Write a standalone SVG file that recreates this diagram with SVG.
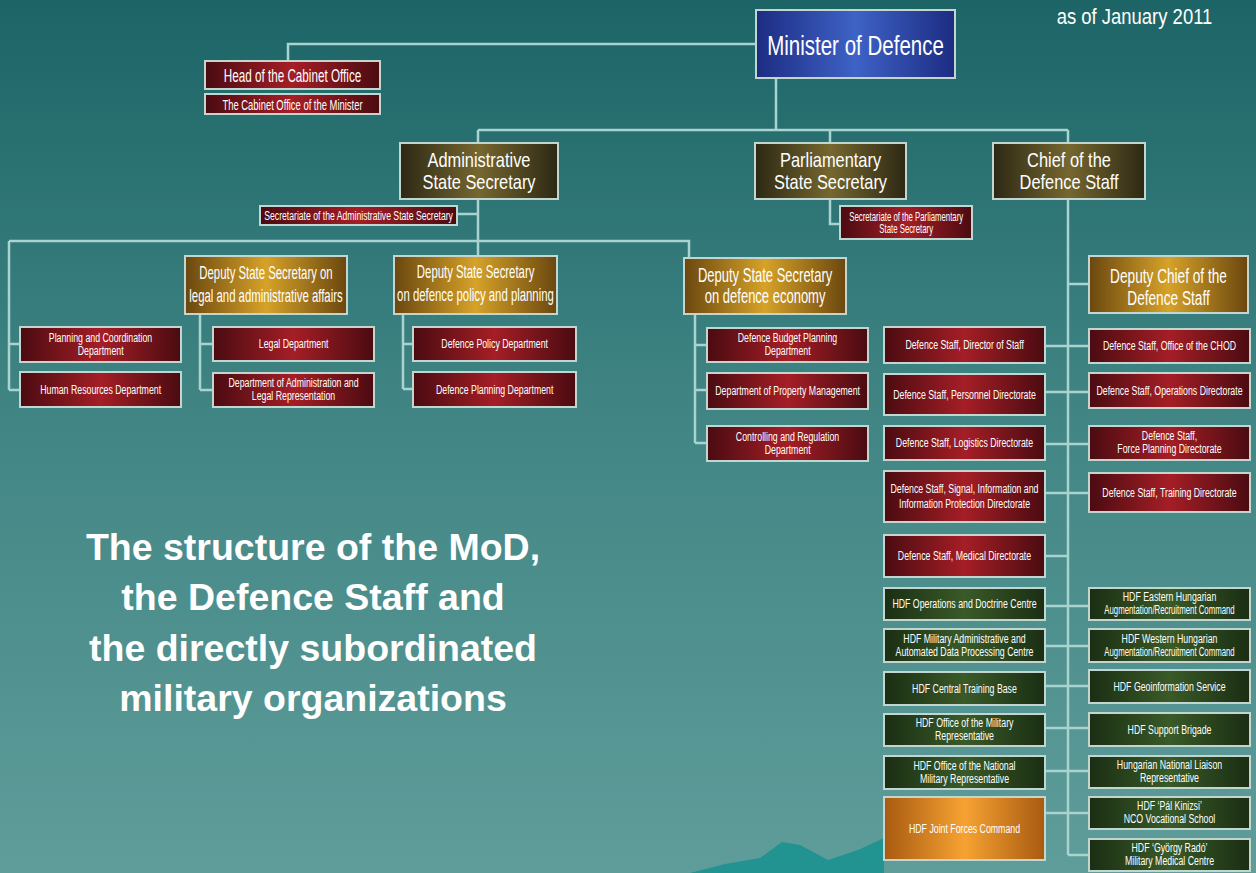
<svg xmlns="http://www.w3.org/2000/svg" width="1256" height="873" viewBox="0 0 1256 873">
<defs>
<linearGradient id="bg" x1="0" y1="0" x2="0" y2="1">
<stop offset="0" stop-color="#1c6466"/><stop offset="0.45" stop-color="#3f8483"/><stop offset="1" stop-color="#5f9d9a"/>
</linearGradient>
<linearGradient id="gRed" x1="0" y1="0" x2="1" y2="0"><stop offset="0" stop-color="#4a0b11"/><stop offset="0.5" stop-color="#a51e26"/><stop offset="1" stop-color="#4a0b11"/></linearGradient>
<linearGradient id="gOlive" x1="0" y1="0" x2="1" y2="0"><stop offset="0" stop-color="#2c2814"/><stop offset="0.5" stop-color="#76672f"/><stop offset="1" stop-color="#2c2814"/></linearGradient>
<linearGradient id="gGold" x1="0" y1="0" x2="1" y2="0"><stop offset="0" stop-color="#6a470f"/><stop offset="0.5" stop-color="#d6a229"/><stop offset="1" stop-color="#6a470f"/></linearGradient>
<linearGradient id="gGreen" x1="0" y1="0" x2="1" y2="0"><stop offset="0" stop-color="#1a2e13"/><stop offset="0.5" stop-color="#3a5a28"/><stop offset="1" stop-color="#1a2e13"/></linearGradient>
<linearGradient id="gBlue" x1="0" y1="0" x2="1" y2="0"><stop offset="0" stop-color="#1c2c82"/><stop offset="0.5" stop-color="#3e62c6"/><stop offset="1" stop-color="#1c2c82"/></linearGradient>
<linearGradient id="gOrange" x1="0" y1="0" x2="1" y2="0"><stop offset="0" stop-color="#a85a10"/><stop offset="0.5" stop-color="#f6a232"/><stop offset="1" stop-color="#a85a10"/></linearGradient>
</defs>
<style>
rect.n{stroke:#c3d5cf;stroke-width:2}
.red{fill:url(#gRed)}.olive{fill:url(#gOlive)}.gold{fill:url(#gGold)}.green{fill:url(#gGreen)}.blue{fill:url(#gBlue)}.orange{fill:url(#gOrange)}
text{font-family:"Liberation Sans",Arial,sans-serif;fill:#ffffff;text-anchor:middle;transform-box:fill-box;transform-origin:center;transform:scaleX(0.65)}
.k72{transform:scaleX(0.72)}.k80{transform:scaleX(0.8)}.k84{transform:scaleX(0.84)}
.s{font-size:13.5px}.xs{font-size:12px}.dss{font-size:17.5px}.ol{font-size:20.5px}
text.title{font-weight:bold;font-size:37.5px;transform:none}
#connectors path{fill:none;stroke:#a9d3cf;stroke-width:2.5}
</style>
<rect x="0" y="0" width="1256" height="873" fill="url(#bg)"/>
<polygon points="690,873 725,864 760,858 782,842 800,845 828,860 858,850 884,838 884,873" fill="#13918f" opacity="0.8"/>

<text class="k84" x="1134.5" y="24" style="font-size:22px">as of January 2011</text>
<g id="title"><text class="title" x="313" y="560">The structure of the MoD,</text><text class="title" x="313" y="610">the Defence Staff and</text><text class="title" x="313" y="661">the directly subordinated</text><text class="title" x="313" y="711">military organizations</text></g>

<g id="connectors">
<path d="M756,44 H288 V61"/>
<path d="M776,78 V130 M478,130 H1068 M478,130 V143 M830,130 V143 M1068,130 V143"/>
<path d="M478,199 V256 M457,214 H478"/>
<path d="M9,241 H689 V258 M9,241 V390 M9,344 H20 M9,390 H20"/>
<path d="M200,314 V390 M200,344 H213 M200,390 H213"/>
<path d="M403,314 V389 M403,344 H413 M403,389 H413"/>
<path d="M695,314 V443 M695,345 H707 M695,390 H707 M695,443 H707"/>
<path d="M830,199 V224 H840"/>
<path d="M1068,199 V855 M1068,284 H1089 M1068,855 H1089"/>
<path d="M1045,346 H1089 M1045,392 H1089 M1045,444 H1089 M1045,493 H1089 M1045,556 H1068 M1045,606 H1089 M1045,646 H1089 M1045,686 H1089 M1045,728 H1089 M1045,771 H1089 M1045,813 H1089"/>
</g>

<g id="minister"><rect class="n blue" x="756" y="10" width="199" height="68"/><text class="k72" x="855.5" y="55" style="font-size:28.5px">Minister of Defence</text></g>
<g id="head-cabinet"><rect class="n red" x="205" y="61" width="175" height="28"/><text x="292.5" y="82" style="font-size:18px">Head of the Cabinet Office</text></g>
<g id="cabinet-office"><rect class="n red" x="205" y="94" width="175" height="20"/><text x="292.5" y="110.5" style="font-size:14.5px">The Cabinet Office of the Minister</text></g>

<g id="admin-ss"><rect class="n olive" x="400" y="143" width="158" height="56"/><text class="ol k80" x="479" y="167">Administrative</text><text class="ol k80" x="479" y="189">State Secretary</text></g>
<g id="parl-ss"><rect class="n olive" x="755" y="143" width="151" height="56"/><text class="ol k80" x="830.5" y="167">Parliamentary</text><text class="ol k80" x="830.5" y="189">State Secretary</text></g>
<g id="chod"><rect class="n olive" x="993" y="143" width="152" height="56"/><text class="ol k80" x="1069" y="167">Chief of the</text><text class="ol k80" x="1069" y="189">Defence Staff</text></g>

<g id="sec-admin"><rect class="n red" x="260" y="206" width="197" height="19"/><text x="358.5" y="220.5" style="font-size:13.3px">Secretariate of the Administrative State Secretary</text></g>
<g id="sec-parl"><rect class="n red" x="840" y="206" width="132" height="33"/><text x="906" y="221" style="font-size:12px">Secretariate of the Parliamentary</text><text x="906" y="233" style="font-size:12px">State Secretary</text></g>

<g id="dss-legal"><rect class="n gold" x="185" y="256" width="162" height="58"/><text class="dss" x="266" y="279">Deputy State Secretary on</text><text class="dss" x="266" y="302">legal and administrative affairs</text></g>
<g id="dss-policy"><rect class="n gold" x="394" y="256" width="163" height="58"/><text class="dss" x="475.5" y="278">Deputy State Secretary</text><text class="dss" x="475.5" y="301">on defence policy and planning</text></g>
<g id="dss-econ"><rect class="n gold" x="684" y="258" width="162" height="56"/><text x="765" y="282" style="font-size:20px">Deputy State Secretary</text><text x="765" y="303" style="font-size:20px">on defence economy</text></g>
<g id="dep-chod"><rect class="n gold" x="1089" y="256" width="159" height="57"/><text x="1168.5" y="283" style="font-size:21px">Deputy Chief of the</text><text x="1168.5" y="305" style="font-size:21px">Defence Staff</text></g>

<g id="planning-coord"><rect class="n red" x="20" y="327" width="161" height="35"/><text class="s" x="100.5" y="342">Planning and Coordination</text><text class="s" x="100.5" y="355">Department</text></g>
<g id="hr"><rect class="n red" x="20" y="372" width="161" height="35"/><text class="s" x="100.5" y="394">Human Resources Department</text></g>
<g id="legal-dept"><rect class="n red" x="213" y="327" width="161" height="34"/><text class="s" x="293.5" y="348.5">Legal Department</text></g>
<g id="admin-legal-rep"><rect class="n red" x="213" y="373" width="161" height="34"/><text class="s" x="293.5" y="387.5">Department of Administration and</text><text class="s" x="293.5" y="400.5">Legal Representation</text></g>
<g id="def-policy"><rect class="n red" x="413" y="327" width="163" height="34"/><text class="s" x="494.5" y="348.5">Defence Policy Department</text></g>
<g id="def-planning"><rect class="n red" x="413" y="372" width="163" height="35"/><text class="s" x="494.5" y="394">Defence Planning Department</text></g>
<g id="budget"><rect class="n red" x="707" y="328" width="161" height="34"/><text class="s" x="787.5" y="342.5">Defence Budget Planning</text><text class="s" x="787.5" y="355.5">Department</text></g>
<g id="property"><rect class="n red" x="707" y="373" width="161" height="36"/><text class="s" x="787.5" y="395.5">Department of Property Management</text></g>
<g id="controlling"><rect class="n red" x="707" y="426" width="161" height="35"/><text class="s" x="787.5" y="441">Controlling and Regulation</text><text class="s" x="787.5" y="454">Department</text></g>

<g id="ds-director"><rect class="n red" x="884" y="327" width="161" height="36"/><text class="s" x="964.5" y="349.5">Defence Staff, Director of Staff</text></g>
<g id="ds-personnel"><rect class="n red" x="884" y="374" width="161" height="41"/><text class="s" x="964.5" y="399">Defence Staff, Personnel Directorate</text></g>
<g id="ds-logistics"><rect class="n red" x="884" y="426" width="161" height="34"/><text class="s" x="964.5" y="447.5">Defence Staff, Logistics Directorate</text></g>
<g id="ds-signal"><rect class="n red" x="884" y="471" width="161" height="51"/><text class="s" x="964.5" y="493">Defence Staff, Signal, Information and</text><text class="s" x="964.5" y="508">Information Protection Directorate</text></g>
<g id="ds-medical"><rect class="n red" x="884" y="535" width="161" height="42"/><text class="s" x="964.5" y="560.5">Defence Staff, Medical Directorate</text></g>
<g id="hdf-ops-doctrine"><rect class="n green" x="884" y="588" width="161" height="32"/><text class="s" x="964.5" y="608.5">HDF Operations and Doctrine Centre</text></g>
<g id="hdf-mil-admin"><rect class="n green" x="884" y="629" width="161" height="33"/><text class="s" x="964.5" y="643">HDF Military Administrative and</text><text class="s" x="964.5" y="656">Automated Data Processing Centre</text></g>
<g id="hdf-ctb"><rect class="n green" x="884" y="672" width="161" height="33"/><text class="s" x="964.5" y="693">HDF Central Training Base</text></g>
<g id="hdf-mil-rep"><rect class="n green" x="884" y="714" width="161" height="32"/><text class="s" x="964.5" y="727.5">HDF Office of the Military</text><text class="s" x="964.5" y="740.5">Representative</text></g>
<g id="hdf-nat-mil-rep"><rect class="n green" x="884" y="756" width="161" height="33"/><text class="s" x="964.5" y="770">HDF Office of the National</text><text class="s" x="964.5" y="783">Military Representative</text></g>
<g id="hdf-jfc"><rect class="n orange" x="884" y="797" width="161" height="63"/><text class="s" x="964.5" y="833">HDF Joint Forces Command</text></g>

<g id="ds-chod-office"><rect class="n red" x="1089" y="329" width="161" height="34"/><text class="s" x="1169.5" y="350.5">Defence Staff, Office of the CHOD</text></g>
<g id="ds-operations"><rect class="n red" x="1089" y="373" width="161" height="35"/><text class="s" x="1169.5" y="395">Defence Staff, Operations Directorate</text></g>
<g id="ds-force-planning"><rect class="n red" x="1089" y="426" width="161" height="34"/><text class="s" x="1169.5" y="440.5">Defence Staff,</text><text class="s" x="1169.5" y="453.5">Force Planning Directorate</text></g>
<g id="ds-training"><rect class="n red" x="1089" y="473" width="161" height="39"/><text class="s" x="1169.5" y="497">Defence Staff, Training Directorate</text></g>
<g id="hdf-eastern"><rect class="n green" x="1089" y="588" width="161" height="32"/><text class="s" x="1169.5" y="601.5">HDF Eastern Hungarian</text><text class="xs" x="1169.5" y="614.5">Augmentation/Recruitment Command</text></g>
<g id="hdf-western"><rect class="n green" x="1089" y="629" width="161" height="33"/><text class="s" x="1169.5" y="643">HDF Western Hungarian</text><text class="xs" x="1169.5" y="656">Augmentation/Recruitment Command</text></g>
<g id="hdf-geo"><rect class="n green" x="1089" y="670" width="161" height="33"/><text class="s" x="1169.5" y="691">HDF Geoinformation Service</text></g>
<g id="hdf-support"><rect class="n green" x="1089" y="713" width="161" height="33"/><text class="s" x="1169.5" y="734">HDF Support Brigade</text></g>
<g id="hu-liaison"><rect class="n green" x="1089" y="756" width="161" height="32"/><text class="s" x="1169.5" y="769.5">Hungarian National Liaison</text><text class="s" x="1169.5" y="782.5">Representative</text></g>
<g id="hdf-kinizsi"><rect class="n green" x="1089" y="797" width="161" height="32"/><text class="s" x="1169.5" y="810.5">HDF ‘Pál Kinizsi’</text><text class="s" x="1169.5" y="823.5">NCO Vocational School</text></g>
<g id="hdf-rado"><rect class="n green" x="1089" y="839" width="161" height="32"/><text class="s" x="1169.5" y="852.5">HDF ‘György Radó’</text><text class="s" x="1169.5" y="865.5">Military Medical Centre</text></g>
</svg>
